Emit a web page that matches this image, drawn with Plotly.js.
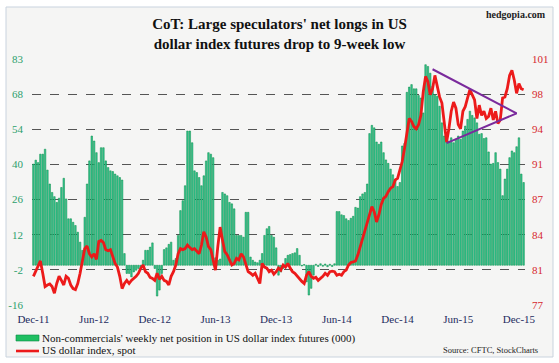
<!DOCTYPE html>
<html>
<head>
<meta charset="utf-8">
<script src="https://cdn.plot.ly/plotly-3.0.1.min.js"></script>
<style>html,body{margin:0;padding:0;background:#fff;}#chart{width:559px;height:363px;}</style>
</head>
<body>
<div id="chart"></div>
<script>
// ---- data (weekly, Dec-2011 .. Dec-2015) ----
const netLongs = [
 40.7, 42.3, 41.3, 44.7, 44.7, 46.7, 38.3, 32.7, 29.3, 27.6,
 25.3, 27, 31.3, 35, 26.7, 18.7, 18.7, 17.3, 16, 13.3,
 9.3, 6, 19.3, 32.7, 42, 52, 50, 45.3, 41.3, 47.3,
 47.3, 42, 39.3, 38, 37.7, 36.7, 36, 35.3, 34.3, 4.7,
 -3.3, -3.3, -4.7, -2.7, -2, -1.3, -0.7, 2, 6, 6,
 7.3, 9, -1.3, -12.4, -10, -3.3, 6.3, 7, 8.4, 9.3,
 2, 2.7, 12, 22, 26, 32, 54, 54, 49.3, 38,
 37.3, 35.3, 32, 36, 42, 45.3, 44.7, 43.3, 3, 2,
 2.5, 29.3, 28.7, 28, 25.3, 24.7, 22.7, 12, 12, 12,
 11.3, 21.3, 21.3, 3.3, 2, 1.3, 1, 2, 4.7, 12,
 14.7, 15.6, 12, 11.3, 7, -4, -2.7, -1.3, 2.7, 4,
 4.3, 4.7, 5, 6.7, 4, -0.3, 0.3, -6.7, -12, -9.3,
 -4, 0.4, -0.5, 0.6, -0.4, 0.5, -0.6, 0.4, -0.5, 0.6,
 21.6, 21.6, 20.3, 20, 18.7, 18, 18.9, 19.7, 23.3, 23,
 27.6, 28.7, 29.3, 32.7, 53, 56.3, 55.3, 49.6, 48.7, 49.6,
 45.3, 42.4, 41, 38.7, 36.4, 34.4, 31.7, 33.3, 48, 49,
 69.6, 71.7, 72.7, 71, 71, 68.3, 67.3, 61.3, 80.7, 80,
 77.3, 72, 68.7, 68, 64, 57.3, 52, 49.6, 50, 51.3,
 49.3, 50.7, 52, 50.7, 54, 56, 58.7, 62, 60.3, 59.3,
 57.3, 52.7, 53, 51, 51.3, 45.6, 40.7, 41, 45.3, 41.3,
 38.7, 28, 34.7, 38.7, 43.3, 46, 45.3, 47.7, 51.3, 36.7, 33.3
];
const dollarIndex = [
 80.0, 80.45, 80.9, 81.5, 80.3, 79.0, 79.15, 79.25, 79.0, 78.35,
 79.3, 80.0, 79.6, 79.15, 80.0, 79.8, 79.15, 78.8, 78.7, 79.3,
 80.3, 81.6, 82.7, 82.95, 82.2, 81.9, 82.2, 81.65, 83.4, 83.5,
 83.3, 82.6, 82.5, 82.6, 81.9, 81.25, 80.9, 80.0, 78.8, 79.3,
 79.6, 79.3, 79.6, 79.8, 80.0, 80.3, 80.8, 81.1, 80.45, 80.3,
 79.9, 79.8, 79.6, 80.3, 79.7, 80.0, 79.6, 79.5, 79.15, 80.0,
 80.45, 81.1, 82.2, 82.7, 82.6, 82.7, 83.05, 82.8, 82.6, 82.7,
 82.4, 82.2, 83.05, 84.35, 83.85, 82.9, 82.6, 81.6, 80.6, 82.9,
 84.8, 83.55, 82.4, 82.1, 81.6, 81.1, 81.25, 81.75, 81.6, 82.2,
 81.9, 81.25, 80.45, 80.3, 80.1, 80.3, 79.8, 79.3, 81.25, 80.9,
 80.8, 80.45, 80.6, 80.2, 80.45, 80.8, 80.6, 81.1, 80.9, 81.25,
 80.8, 80.45, 80.3, 80.0, 79.8, 79.5, 79.3, 80.1, 80.45, 80.0,
 79.8, 79.9, 79.6, 79.8, 80.0, 80.3, 80.1, 80.45, 80.5, 80.45,
 80.1, 80.2, 80.1, 80.45, 80.6, 81.1, 81.35, 81.4, 81.5, 82.1,
 82.9, 83.7, 84.35, 85.2, 86.0, 86.8, 86.3, 85.3, 86.0, 87.0,
 87.6, 87.8, 88.25, 88.6, 88.75, 89.4, 89.55, 90.5, 91.2, 92.5,
 94.1, 95.4, 95.1, 94.6, 94.4, 94.8, 95.7, 98.0, 99.5, 99.0,
 97.7, 98.3, 99.6, 98.5, 97.5, 96.9, 95.1, 93.1, 94.4, 96.1,
 97.0, 96.4, 94.8, 94.4, 96.1, 96.55, 97.4, 98.2, 97.7, 97.2,
 95.4, 96.7, 95.7, 96.1, 95.4, 95.6, 96.4, 95.25, 96.1, 94.9,
 95.25, 97.4, 97.5, 98.3, 99.6, 100.1, 99.15, 97.85, 98.8, 98.3, 98.2
];
// x tick labels (every 26 weeks)
const xTickWeeks = [0, 26, 52, 78, 104, 130, 156, 182, 208];
const xTickLabels = ['Dec-11','Jun-12','Dec-12','Jun-13','Dec-13','Jun-14','Dec-14','Jun-15','Dec-15'];
// left axis labels
const leftLabels = ['-16','-2','12','26','40','54','68','83'];
const leftRange = [-16, 83];
// right axis labels
const rightLabels = ['77','81','84','87','91','94','98','101'];
const rightRange = [77.2, 101.2];
// triangle (symmetrical consolidation) on the dollar index
const triWeeks = [171, 207, 177];
const triValues = [100.2, 95.9, 93.0];

// ---- build ----
const weeks = netLongs.map((_, i) => i);
function evenTicks(r, n) { const t = []; for (let k = 0; k < n; k++) t.push(r[0] + (r[1] - r[0]) * k / (n - 1)); return t; }

const W = 559, H = 363;
const L = 32, R = 525, T = 59, B = 305;
const px = x => (x - L) / (R - L);
const py = y => (B - y) / (B - T);
const serif = 'Liberation Serif, Times New Roman, serif';

const traces = [
  { type: 'bar', x: weeks, y: netLongs, name: "Non-commercials' weekly net position in US dollar index futures (000)",
    marker: { color: '#36c692', line: { color: '#078a45', width: 0.5 } }, hoverinfo: 'x+y' },
  { type: 'scatter', mode: 'lines', x: weeks, y: dollarIndex, yaxis: 'y2', name: 'US dollar index, spot',
    line: { color: '#ec1a1a', width: 2.8 } },
  { type: 'scatter', mode: 'lines', x: [triWeeks[0], triWeeks[1], triWeeks[2]], y: [triValues[0], triValues[1], triValues[2]],
    yaxis: 'y2', line: { color: '#7a2a9c', width: 2 }, hoverinfo: 'skip', showlegend: false }
];

const layout = {
  width: W, height: H,
  margin: { l: L, r: W - R, t: T, b: H - B, pad: 0 },
  paper_bgcolor: '#ffffff',
  plot_bgcolor: '#fbfbed',
  showlegend: false,
  bargap: 0.34,
  title: { text: "<b>CoT: Large speculators' net longs in US<br>dollar index futures drop to 9-week low</b>",
    font: { family: serif, size: 15, color: '#111' }, x: 0.5, xanchor: 'center', y: 1 - 29 / H, yanchor: 'middle' },
  xaxis: {
    range: [-0.6, netLongs.length - 0.4], showgrid: false, zeroline: false, showline: false,
    tickmode: 'array', tickvals: xTickWeeks, ticktext: xTickLabels, ticks: '',
    tickfont: { family: serif, size: 11, color: '#1d2b5e' }, ticklabelstandoff: 6
  },
  yaxis: {
    range: leftRange, tickmode: 'array', tickvals: evenTicks(leftRange, 8), ticktext: leftLabels,
    showgrid: true, gridcolor: '#555', griddash: 'dash', gridwidth: 1, zeroline: false, showline: false, ticks: '',
    tickfont: { family: serif, size: 11, color: '#2c9f6c' }, ticklabelstandoff: 8
  },
  yaxis2: {
    overlaying: 'y', side: 'right', range: rightRange, tickmode: 'array', tickvals: evenTicks(rightRange, 8), ticktext: rightLabels,
    showgrid: false, zeroline: false, showline: false, ticks: '',
    tickfont: { family: serif, size: 11, color: '#d6282d' }, ticklabelstandoff: 6
  },
  shapes: [
    { type: 'rect', xref: 'paper', yref: 'paper', layer: 'below', x0: px(6), x1: px(553), y0: py(357), y1: py(7),
      fillcolor: '#f5f5f4', line: { color: '#c9d3de', width: 1 } },
    { type: 'rect', xref: 'paper', yref: 'paper', x0: px(16), x1: px(39), y0: py(341), y1: py(335),
      fillcolor: '#1fbf62', line: { color: '#0b8a48', width: 0.6 } },
    { type: 'line', xref: 'paper', yref: 'paper', x0: px(16), x1: px(39), y0: py(351), y1: py(351),
      line: { color: '#ec1a1a', width: 2.6 } }
  ],
  annotations: [
    { xref: 'paper', yref: 'paper', x: px(548), y: py(15), xanchor: 'right', yanchor: 'middle', showarrow: false,
      text: '<b>hedgopia.com</b>', font: { family: serif, size: 10, color: '#222' } },
    { xref: 'paper', yref: 'paper', x: px(40), y: py(338), xanchor: 'left', yanchor: 'middle', showarrow: false,
      text: "Non-commercials' weekly net position in US dollar index futures (000)", font: { family: serif, size: 11, color: '#111' } },
    { xref: 'paper', yref: 'paper', x: px(40), y: py(350), xanchor: 'left', yanchor: 'middle', showarrow: false,
      text: 'US dollar index, spot', font: { family: serif, size: 11, color: '#111' } },
    { xref: 'paper', yref: 'paper', x: px(540), y: py(350), xanchor: 'right', yanchor: 'middle', showarrow: false,
      text: 'Source: CFTC, StockCharts', font: { family: serif, size: 8.5, color: '#222' } }
  ]
};

Plotly.newPlot('chart', traces, layout, { displayModeBar: false, staticPlot: true });
</script>
</body>
</html>
